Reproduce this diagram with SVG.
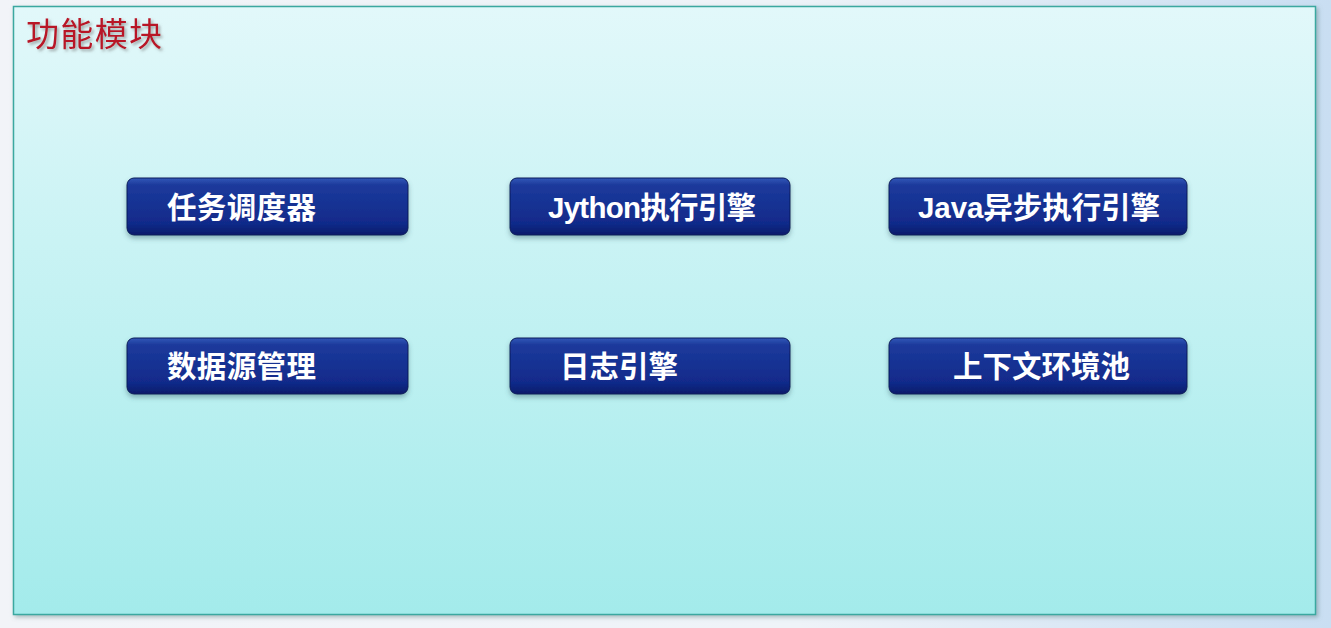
<svg xmlns="http://www.w3.org/2000/svg" width="1331" height="628" viewBox="0 0 1331 628">
<defs>
<linearGradient id="bg" x1="0" y1="0" x2="1" y2="0">
<stop offset="0" stop-color="#f2f4f8"/>
<stop offset="0.6" stop-color="#eef3f8"/>
<stop offset="1" stop-color="#c9def2"/>
</linearGradient>
<linearGradient id="panel" x1="0" y1="0" x2="0" y2="1">
<stop offset="0" stop-color="#e2f8fa"/>
<stop offset="1" stop-color="#a3ebeb"/>
</linearGradient>
<linearGradient id="btn" x1="0" y1="0" x2="0" y2="1">
<stop offset="0" stop-color="#3558b8"/>
<stop offset="0.12" stop-color="#1c3a9c"/>
<stop offset="0.8" stop-color="#112a8a"/>
<stop offset="1" stop-color="#0a1c6a"/>
</linearGradient>
<filter id="sh" x="-10%" y="-20%" width="120%" height="150%">
<feDropShadow dx="0" dy="3" stdDeviation="2.5" flood-color="#3a6070" flood-opacity="0.45"/>
</filter>
<filter id="tsh" x="-10%" y="-30%" width="130%" height="160%">
<feDropShadow dx="2" dy="2" stdDeviation="1.5" flood-color="#707070" flood-opacity="0.6"/>
</filter>
<filter id="psh" x="-2%" y="-2%" width="104%" height="104%">
<feDropShadow dx="2" dy="2" stdDeviation="2" flood-color="#608080" flood-opacity="0.5"/>
</filter>
</defs>
<style>
.btn{fill:url(#btn);stroke:#0a1a5a;stroke-width:1;filter:url(#sh)}
.lbl{font-family:"Liberation Sans","Noto Sans CJK SC",sans-serif;font-weight:bold;font-size:29.5px;fill:#ffffff}
.title{font-family:"Noto Sans CJK SC","Liberation Serif",serif;font-size:33px;fill:#b81428;filter:url(#tsh)}
</style>
<rect x="0" y="0" width="1331" height="628" fill="url(#bg)"/>
<rect x="13.5" y="6.5" width="1302" height="608" fill="url(#panel)" stroke="#3aa8a0" stroke-width="1.5" filter="url(#psh)"/>
<text class="title" x="26" y="46" textLength="136">功能模块</text>
<g id="n1"><rect class="btn" x="127" y="178" width="281" height="57" rx="7"/><text class="lbl" x="167" y="218" textLength="149">任务调度器</text></g>
<g id="n2"><rect class="btn" x="510" y="178" width="280" height="57" rx="7"/><text class="lbl" x="548" y="218" textLength="208">Jython执行引擎</text></g>
<g id="n3"><rect class="btn" x="889" y="178" width="298" height="57" rx="7"/><text class="lbl" x="918" y="218" textLength="242">Java异步执行引擎</text></g>
<g id="n4"><rect class="btn" x="127" y="338" width="281" height="56" rx="7"/><text class="lbl" x="167" y="377" textLength="149">数据源管理</text></g>
<g id="n5"><rect class="btn" x="510" y="338" width="280" height="56" rx="7"/><text class="lbl" x="560" y="377" textLength="118">日志引擎</text></g>
<g id="n6"><rect class="btn" x="889" y="338" width="298" height="56" rx="7"/><text class="lbl" x="953" y="377" textLength="177">上下文环境池</text></g>
<g id="connectors"/>
</svg>
